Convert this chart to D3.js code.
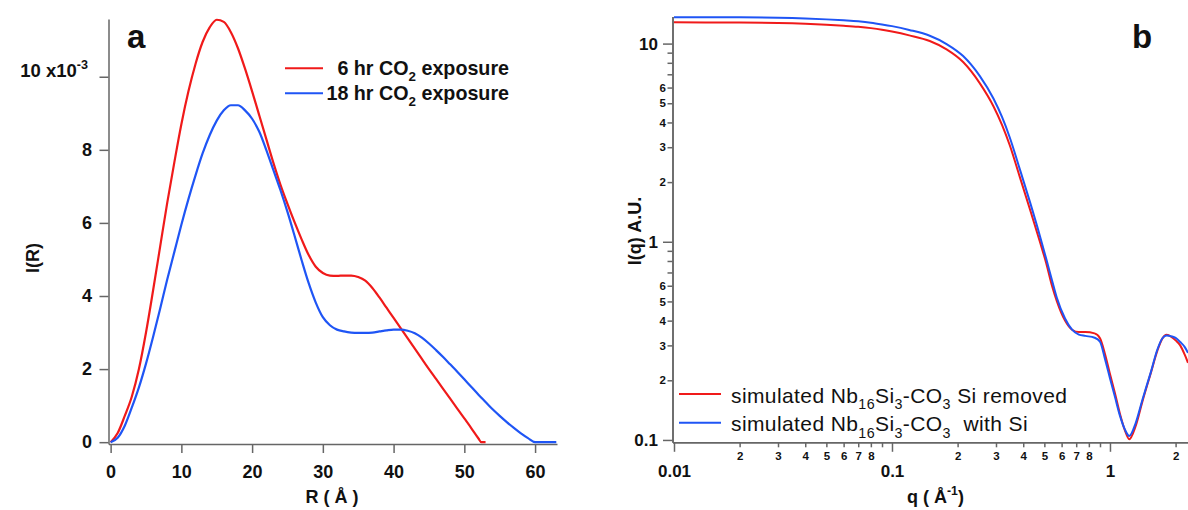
<!DOCTYPE html>
<html>
<head>
<meta charset="utf-8">
<script src="https://cdn.jsdelivr.net/npm/d3@7"></script>
<style>
  body { margin: 0; background: #fff; }
  svg text { font-family: "Liberation Sans", Arial, sans-serif; fill: #111; }
</style>
</head>
<body>
<div id="chart"></div>
<script>
// ---- panel a : size distribution I(R) ----
var rRed = [0,1,2,3,4,5,6,7,8,9,10,11,12,13,14,15,16,17,18,19,20,21,22,23,24,25,26,27,28,29,30,
  31,32,33,34,35,36,37,38,39,40,41,42,43,44,45,46,47,48,49,50,51,52,52.4,53];
var iRed = [0,0.25,0.72,1.25,2.0,3.0,4.15,5.35,6.55,7.65,8.7,9.6,10.35,10.95,11.35,11.56,11.5,11.22,10.78,10.22,9.6,
  8.95,8.3,7.65,7.05,6.52,6.02,5.55,5.12,4.8,4.63,4.56,4.55,4.56,4.56,4.52,4.42,4.22,3.96,3.68,3.4,
  3.12,2.84,2.56,2.28,2.0,1.73,1.46,1.19,0.92,0.65,0.38,0.1,0,0];

var rBlue = [0,1,2,3,4,5,6,7,8,9,10,11,12,13,14,15,16,17,18,19,20,21,22,23,24,25,26,27,28,29,30,
  31,32,33,34,35,36,37,38,39,40,41,42,43,44,45,46,47,48,49,50,51,52,53,54,55,56,57,58,59,60,63];
var iBlue = [0,0.12,0.45,0.95,1.5,2.15,2.88,3.65,4.45,5.2,5.95,6.65,7.3,7.9,8.4,8.8,9.08,9.22,9.22,9.08,8.85,
  8.5,8.0,7.45,6.9,6.3,5.65,4.98,4.35,3.82,3.42,3.2,3.08,3.03,3.0,2.99,2.99,3.0,3.03,3.06,3.08,
  3.08,3.05,2.98,2.86,2.7,2.52,2.33,2.13,1.93,1.72,1.51,1.3,1.1,0.9,0.72,0.55,0.39,0.24,0.11,0,0];

var aXTicks = [0, 10, 20, 30, 40, 50, 60];
var aYTicks = [0, 2, 4, 6, 8, 10];
var aLegend = ["6 hr CO", "18 hr CO"];

// ---- panel b : simulated scattering I(q) ----
var qValues = [0.01,0.02,0.03,0.04,0.05,0.06,0.07,0.08,0.09,0.1,0.12,0.149,0.178,0.212,0.253,0.292,0.32,0.347,
  0.386,0.43,0.477,0.51,0.542,0.571,0.622,0.67,0.72,0.77,0.85,0.9,0.95,1.0,1.054,1.11,1.17,1.226,
  1.31,1.41,1.54,1.65,1.74,1.82,1.92,2.0,2.1,2.2,2.28];
var siRemoved = [12.8,12.78,12.72,12.6,12.45,12.3,12.15,11.97,11.75,11.5,11.0,10.3,9.35,8.07,6.3,4.83,3.88,3.07,
  2.12,1.45,1.0,0.78,0.6,0.5,0.4,0.36,0.35,0.35,0.345,0.326,0.27,0.215,0.172,0.136,0.112,0.1008,
  0.117,0.157,0.218,0.282,0.325,0.339,0.33,0.318,0.3,0.27,0.245];
var withSi = [13.6,13.58,13.52,13.4,13.25,13.1,12.95,12.75,12.5,12.25,11.72,10.95,9.95,8.65,6.85,5.28,4.25,3.36,
  2.32,1.58,1.07,0.82,0.64,0.52,0.41,0.36,0.34,0.335,0.328,0.313,0.255,0.205,0.165,0.133,0.113,0.1047,
  0.121,0.16,0.22,0.286,0.326,0.337,0.333,0.327,0.312,0.295,0.275];

var bMajorX = [0.01, 0.1, 1];
var bMajorY = [0.1, 1, 10];
var minorSteps = [2, 3, 4, 5, 6, 7, 8, 9];
var xMinorLabeled = [2, 3, 4, 5, 6, 7, 8];
var yMinorLabeled = [2, 3, 4, 5, 6];

var redColor = "#f01a1a";
var blueColor = "#1f55f5";
var axisColor = "#666";

var svg = d3.select("#chart").append("svg")
  .attr("width", 1188)
  .attr("height", 510);

// helper: text made of normal / sub / sup pieces
function richText(sel, pieces, size) {
  var shift = 0;
  pieces.forEach(function(p) {
    var want = p[1] === "sub" ? size * 0.3 : (p[1] === "sup" ? -size * 0.42 : 0);
    sel.append("tspan")
      .attr("dy", want - shift)
      .style("font-size", (p[1] ? size * 0.68 : size) + "px")
      .text(p[0]);
    shift = want;
  });
}

function styleAxis(g, size, weight) {
  g.select(".domain").attr("stroke", axisColor).attr("stroke-width", 1.5);
  g.selectAll(".tick line").attr("stroke", axisColor).attr("stroke-width", 1.5);
  g.selectAll(".tick text")
    .attr("fill", "#111")
    .style("font-family", '"Liberation Sans", Arial, sans-serif')
    .style("font-size", size + "px")
    .style("font-weight", weight);
}

// ================= panel a =================
var aX = d3.scaleLinear().domain([-0.3, 63.1]).range([108.5, 557]);
var aY = d3.scaleLinear().domain([-0.05, 11.58]).range([444, 19]);

var gAx = svg.append("g")
  .attr("transform", "translate(0," + aY.range()[0] + ")")
  .call(d3.axisBottom(aX).tickValues(aXTicks).tickSize(9).tickPadding(12.5).tickSizeOuter(0));
styleAxis(gAx, 18, "bold");

var gAy = svg.append("g")
  .attr("transform", "translate(" + aX.range()[0] + ",0)")
  .call(d3.axisLeft(aY).tickValues(aYTicks).tickSize(9).tickPadding(7.5).tickSizeOuter(0));
styleAxis(gAy, 18, "bold");

// the 10 label carries the scale factor
gAy.selectAll(".tick text").filter(d => d === 10).each(function() {
  var t = d3.select(this).text("");
  t.attr("dx", -4);
  richText(t, [["10 x10", ""], ["-3", "sup"]], 18.5);
});

var aLine = d3.line()
  .x(d => aX(d[0]))
  .y(d => aY(d[1]))
  .curve(d3.curveMonotoneX);

svg.append("path")
  .datum(d3.zip(rRed, iRed))
  .attr("fill", "none").attr("stroke", redColor).attr("stroke-width", 2.2)
  .attr("d", aLine);

svg.append("path")
  .datum(d3.zip(rBlue, iBlue))
  .attr("fill", "none").attr("stroke", blueColor).attr("stroke-width", 2.2)
  .attr("d", aLine);

svg.append("text")
  .attr("x", 332).attr("y", 503)
  .attr("text-anchor", "middle")
  .style("font-size", "18px").style("font-weight", "bold")
  .attr("xml:space", "preserve")
  .text("R ( Å )");

svg.append("text")
  .attr("transform", "translate(39,258) rotate(-90)")
  .attr("text-anchor", "middle")
  .style("font-size", "18px").style("font-weight", "bold")
  .text("I(R)");

svg.append("text")
  .attr("x", 127).attr("y", 48)
  .style("font-size", "33px").style("font-weight", "bold")
  .text("a");

// legend a
[redColor, blueColor].forEach(function(c, i) {
  var y = 68.3 + i * 25;
  svg.append("line")
    .attr("x1", 285).attr("x2", 323).attr("y1", y).attr("y2", y)
    .attr("stroke", c).attr("stroke-width", 2);
  var t = svg.append("text")
    .attr("x", 509).attr("y", y + 6.9)
    .attr("text-anchor", "end")
    .style("font-weight", "bold")
    .attr("xml:space", "preserve");
  richText(t, [[aLegend[i], ""], ["2", "sub"], [" exposure", ""]], 19.7);
});

// ================= panel b =================
var bX = d3.scaleLog().domain([0.009843, 2.28]).range([672.5, 1188]);
var bY = d3.scaleLog().domain([0.0973, 13.7]).range([442.3, 16.5]);

function minorTicks(scale) {
  var lo = scale.domain()[0], hi = scale.domain()[1], out = [];
  [0.01, 0.1, 1, 10].forEach(function(p) {
    minorSteps.forEach(function(m) {
      var v = +(m * p).toPrecision(3);
      if (v > lo && v < hi) out.push(v);
    });
  });
  return out;
}

function leading(v) {
  return Math.round(v / Math.pow(10, Math.floor(Math.log10(v) + 1e-9)));
}

var gBxMinor = svg.append("g")
  .attr("transform", "translate(0," + bY.range()[0] + ")")
  .call(d3.axisBottom(bX).tickValues(minorTicks(bX)).tickSize(5).tickPadding(5).tickSizeOuter(0)
    .tickFormat(d => xMinorLabeled.indexOf(leading(d)) >= 0 ? String(leading(d)) : ""));
styleAxis(gBxMinor, 11.5, "bold");

var gBxMajor = svg.append("g")
  .attr("transform", "translate(0," + bY.range()[0] + ")")
  .call(d3.axisBottom(bX).tickValues(bMajorX).tickSize(9.5).tickPadding(13).tickSizeOuter(0)
    .tickFormat(d => String(d)));
styleAxis(gBxMajor, 17, "bold");

var gByMinor = svg.append("g")
  .attr("transform", "translate(" + bX.range()[0] + ",0)")
  .call(d3.axisLeft(bY).tickValues(minorTicks(bY)).tickSize(5).tickPadding(1.5).tickSizeOuter(0)
    .tickFormat(d => yMinorLabeled.indexOf(leading(d)) >= 0 ? String(leading(d)) : ""));
styleAxis(gByMinor, 11.5, "bold");

var gByMajor = svg.append("g")
  .attr("transform", "translate(" + bX.range()[0] + ",0)")
  .call(d3.axisLeft(bY).tickValues(bMajorY).tickSize(9.5).tickPadding(5).tickSizeOuter(0)
    .tickFormat(d => String(d)));
styleAxis(gByMajor, 17, "bold");

var bLine = d3.line()
  .x(d => bX(d[0]))
  .y(d => bY(d[1]))
  .curve(d3.curveMonotoneX);

svg.append("path")
  .datum(d3.zip(qValues, siRemoved))
  .attr("fill", "none").attr("stroke", redColor).attr("stroke-width", 2)
  .attr("d", bLine);

svg.append("path")
  .datum(d3.zip(qValues, withSi))
  .attr("fill", "none").attr("stroke", blueColor).attr("stroke-width", 2)
  .attr("d", bLine);

var qTitle = svg.append("text")
  .attr("x", 907).attr("y", 503)
  .style("font-weight", "bold")
  .attr("xml:space", "preserve");
richText(qTitle, [["q ( Å", ""], ["-1", "sup"], [")", ""]], 18);

svg.append("text")
  .attr("transform", "translate(641,231) rotate(-90)")
  .attr("text-anchor", "middle")
  .style("font-size", "18px").style("font-weight", "bold")
  .text("I(q) A.U.");

svg.append("text")
  .attr("x", 1132).attr("y", 48)
  .style("font-size", "33px").style("font-weight", "bold")
  .text("b");

// legend b
var bLegend = [
  [["simulated Nb", ""], ["16", "sub"], ["Si", ""], ["3", "sub"], ["-CO", ""], ["3", "sub"], [" Si removed", ""]],
  [["simulated Nb", ""], ["16", "sub"], ["Si", ""], ["3", "sub"], ["-CO", ""], ["3", "sub"], ["  with Si", ""]]
];
[redColor, blueColor].forEach(function(c, i) {
  var y = 394 + i * 28.7;
  svg.append("line")
    .attr("x1", 679).attr("x2", 721).attr("y1", y).attr("y2", y)
    .attr("stroke", c).attr("stroke-width", 2);
  var t = svg.append("text")
    .attr("x", 731).attr("y", y + 8.5)
    .style("letter-spacing", "0.4px")
    .attr("xml:space", "preserve");
  richText(t, bLegend[i], 21);
});
</script>
</body>
</html>
